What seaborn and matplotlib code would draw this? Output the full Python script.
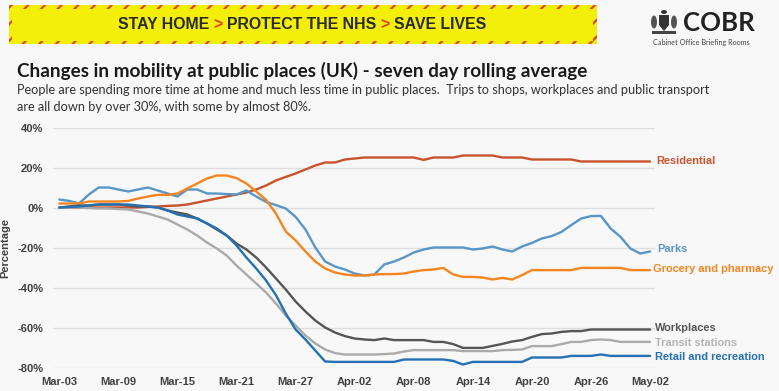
import numpy as np
import pandas as pd
import matplotlib
matplotlib.use("Agg")
import matplotlib.pyplot as plt
import seaborn as sns
from matplotlib.patches import Rectangle, Polygon, Ellipse

# ---------------- data ----------------
start_date = "2020-03-03"
end_date = "2020-05-02"

categories = ["Residential", "Parks", "Grocery and pharmacy",
              "Workplaces", "Transit stations", "Retail and recreation"]

residential = [0, 0, 0, 0, 0, 0, 0, 0, 0, 0.3, 0.5, 0.8, 1, 1.5, 2.5, 3.5, 4.5, 5.5, 6.5, 7.5,
               9, 11, 13.5, 15.3, 17, 19, 21, 22.5, 22.5, 24, 24.5, 25, 25, 25, 25, 25, 25, 23.8, 25, 25,
               25, 26, 26, 26, 26, 25, 25, 25, 24, 24, 24, 24, 24, 23, 23, 23, 23, 23, 23, 23, 23]
parks = [4, 3.3, 2, 6.5, 10, 10, 9, 8, 9, 10, 8.5, 7, 5.5, 9, 9, 7, 7, 6.7, 6.5, 8.5,
         5.5, 2.8, 1.2, -0.5, -4.7, -11, -20, -27, -29.5, -31, -33, -34, -33.5, -28.5, -27, -25, -22.5, -21, -20, -20,
         -20, -20, -21, -20.5, -19.5, -21, -22, -19.5, -17.7, -15.5, -14.3, -12.2, -8.8, -5.5, -4.3, -4.2, -10.5, -14.7, -20.5, -23,
         -22]
grocery = [2, 2, 2, 3, 3, 3, 3, 3.3, 4.5, 5.5, 6.3, 6.3, 7, 9.5, 12, 14.5, 16, 16, 14.7, 12,
           8, 3.8, -3, -12, -16.5, -22, -27, -30.5, -32.5, -33.5, -34, -34, -33.5, -33.3, -33.3, -33, -32, -31.3, -31, -30.2,
           -33.5, -34.7, -34.7, -35, -36, -35.2, -36, -33.8, -31.3, -31.3, -31.3, -31.3, -31.3, -30.2, -30.2, -30.2, -30.2, -30.2, -31.3, -31.3,
           -31.3]
workplaces = [0, 0.5, 1, 1, 1.5, 1.5, 1.5, 1, 0.5, 0.5, 0, -1.5, -2.5, -3.5, -5.5, -8, -11, -14, -18, -21,
              -25, -30, -35.5, -41, -47, -52, -56.5, -60, -62.5, -64.3, -65.5, -66, -66.3, -65.5, -66.3, -66.3, -66.3, -66.3, -67.2, -67.2,
              -68.3, -70.2, -70.2, -70.2, -69.2, -68.2, -67, -66.3, -64.7, -63.3, -63, -62.2, -61.8, -61.8, -61, -61, -61, -61, -61, -61,
              -61]
transit = [0, 0, 0, -0.3, -0.5, -0.5, -0.8, -1, -2, -3, -4.5, -6, -8.5, -11, -14, -17.5, -20.5, -24, -29, -33.5,
           -38, -42.5, -48, -54, -59, -64, -68, -71, -72.8, -73.5, -73.5, -73.5, -73.5, -73.3, -73, -72, -71.3, -71.3, -71.3, -71.3,
           -71.3, -71.8, -71.8, -71.8, -71.8, -71.3, -71.2, -71, -69.3, -69.3, -69.3, -68.3, -67.2, -67.2, -66.3, -66, -66.3, -67.2, -67.2, -67.2,
           -67.2]
retail = [0, 0.3, 0.5, 1, 1.5, 1.5, 1.5, 1.5, 1, 0.5, 0, -1.5, -3.5, -4.5, -5.5, -8, -10.5, -14, -19, -25,
          -30.5, -36.5, -43.8, -53, -61, -66, -71.5, -77, -77.2, -77.2, -77.2, -77.2, -77.2, -77.2, -77.2, -76, -76, -76, -76, -76,
          -76.7, -78.5, -77.2, -77.2, -77.2, -77.2, -77.2, -77.2, -75, -75, -75, -75, -74.2, -74.2, -74.2, -73.5, -74.2, -74.2, -74.2, -74.2,
          -74.2]

label_y = [23, -20.7, -30.7, -60.2, -67.5, -74.7]   # end-label positions (%)
y_ticks = [-80, -60, -40, -20, 0, 20, 40]

title = "Changes in mobility at public places (UK) - seven day rolling average"
subtitle1 = ("People are spending more time at home and much less time in public places.  "
             "Trips to shops, workplaces and public transport")
subtitle2 = "are all down by over 30%, with some by almost 80%."

# ---------------- styling ----------------
BG = "#f8f8f8"
colors = {
    "Residential": "#c9532c",
    "Parks": "#5896c8",
    "Grocery and pharmacy": "#f5861f",
    "Workplaces": "#555555",
    "Transit stations": "#aaaaaa",
    "Retail and recreation": "#2470b3",
}
label_colors = dict(colors)
label_colors["Transit stations"] = "#b5b5b5"
label_offsets = [6, 7, 3, 5, 5, 5]

sns.set_theme(style="white")
plt.rcParams["font.family"] = ["Liberation Sans", "DejaVu Sans"]
plt.rcParams["hatch.linewidth"] = 1.6

dates = pd.date_range(start_date, end_date, freq="D")
days = np.arange(len(dates))
series = [residential, parks, grocery, workplaces, transit, retail]
df = pd.concat([pd.DataFrame({"day": days, "value": v, "category": c})
                for c, v in zip(categories, series)], ignore_index=True)

W, H = 779, 391
fig = plt.figure(figsize=(W / 100, H / 100), dpi=100, facecolor=BG)

# overlay axes in pixel coordinates for header elements
ov = fig.add_axes([0, 0, 1, 1])
ov.set_xlim(0, W)
ov.set_ylim(H, 0)
ov.axis("off")

ax = fig.add_axes([53 / W, 1 - 367.5 / H, 602 / W, 240 / H])
ax.set_facecolor(BG)

sns.lineplot(data=df, x="day", y="value", hue="category", hue_order=categories,
             palette=colors, linewidth=1.7, legend=False, ax=ax, zorder=3)

ax.set_ylim(-80, 40)
ax.set_xlim(-0.64, 60.5)
ax.set_yticks(y_ticks)
ax.set_yticklabels([f"{v}%" for v in y_ticks])
tick_days = days[::6]
ax.set_xticks(tick_days)
ax.set_xticklabels([dates[d].strftime("%b-%d") for d in tick_days])
ax.yaxis.grid(True, color="#dedede", linewidth=1)
ax.xaxis.grid(False)
for s in ax.spines.values():
    s.set_visible(False)
ax.tick_params(axis="both", length=0, labelsize=8, labelcolor="#404040")
ax.tick_params(axis="y", pad=7)
ax.tick_params(axis="x", pad=7)
for lab in ax.get_xticklabels() + ax.get_yticklabels():
    lab.set_fontweight("bold")
ax.set_xlabel("")
ax.set_ylabel("Percentage", fontsize=8, fontweight="bold", color="#404040")
ax.yaxis.set_label_coords((10 - 53) / 602, 0.5)

for c, ly, off in zip(categories, label_y, label_offsets):
    ax.annotate(c, xy=(days[-1], ly), xytext=(off, 0), textcoords="offset pixels",
                ha="left", va="center", fontsize=7.9, fontweight="bold",
                color=label_colors[c], annotation_clip=False)

# ---------------- header ----------------
renderer = fig.canvas.get_renderer()


def text_w(s, **kw):
    t = ov.text(0, 0, s, **kw)
    w = t.get_window_extent(renderer).width
    t.remove()
    return w


def fit(t, target_w):
    w = t.get_window_extent(renderer).width
    t.set_fontsize(t.get_fontsize() * target_w / w)
    return t


YELLOW = "#f3ef08"
ov.add_patch(Rectangle((9, 5), 588, 39, facecolor=YELLOW, edgecolor="#e0452b",
                       hatch="//", linewidth=0))
ov.add_patch(Rectangle((12.5, 8.5), 581, 32, facecolor=YELLOW, linewidth=0))

banner_parts = ["STAY HOME", ">", "PROTECT THE NHS", ">", "SAVE LIVES"]
full = " ".join(banner_parts)
bkw = dict(fontweight="bold", family=["Liberation Sans", "DejaVu Sans"])
base = 12
wfull = text_w(full, fontsize=base, **bkw)
bfs = base * 370 / wfull
left = 118
prefix = ""
for i, part in enumerate(banner_parts):
    lead = (prefix + " " if prefix else "") + part
    wpre = text_w(lead, fontsize=bfs, **bkw) - text_w(part, fontsize=bfs, **bkw)
    ov.text(left + wpre, 24.5, part, fontsize=bfs, ha="left", va="center",
            color="#e0452b" if part == ">" else "#2a2a2a", **bkw)
    prefix = lead

# COBR logo (simplified crest + text)
ov.add_patch(Polygon([[659, 15], [669, 15], [669, 25], [664, 31], [659, 25]],
                     closed=True, facecolor="#333333", linewidth=0))
ov.add_patch(Ellipse((664, 12), 6, 4, facecolor="#333333", linewidth=0))
ov.add_patch(Ellipse((654, 22), 6, 13, facecolor="#555555", linewidth=0))
ov.add_patch(Ellipse((674, 22), 6, 13, facecolor="#555555", linewidth=0))
ov.add_patch(Rectangle((652, 31), 24, 3, facecolor="#444444", linewidth=0))
fit(ov.text(683, 23, "COBR", fontsize=18, fontweight="bold", color="#222222",
            ha="left", va="center", family=["Lato", "DejaVu Sans"]), 72)
fit(ov.text(653, 43, "Cabinet Office Briefing Rooms", fontsize=6, color="#444444",
            ha="left", va="center", family=["Lato", "DejaVu Sans"]), 97)

# title & subtitle
fit(ov.text(17, 71, title, fontsize=14, fontweight="bold", color="#1a1a1a",
            ha="left", va="center", family=["Lato", "DejaVu Sans"]), 571)
t1 = fit(ov.text(17, 90, subtitle1, fontsize=9, color="#333333",
                 ha="left", va="center", family=["Lato", "DejaVu Sans"]), 701)
ov.text(17, 107, subtitle2, fontsize=t1.get_fontsize(), color="#333333",
        ha="left", va="center", family=["Lato", "DejaVu Sans"])

fig.savefig("out.png", dpi=100, facecolor=BG)
